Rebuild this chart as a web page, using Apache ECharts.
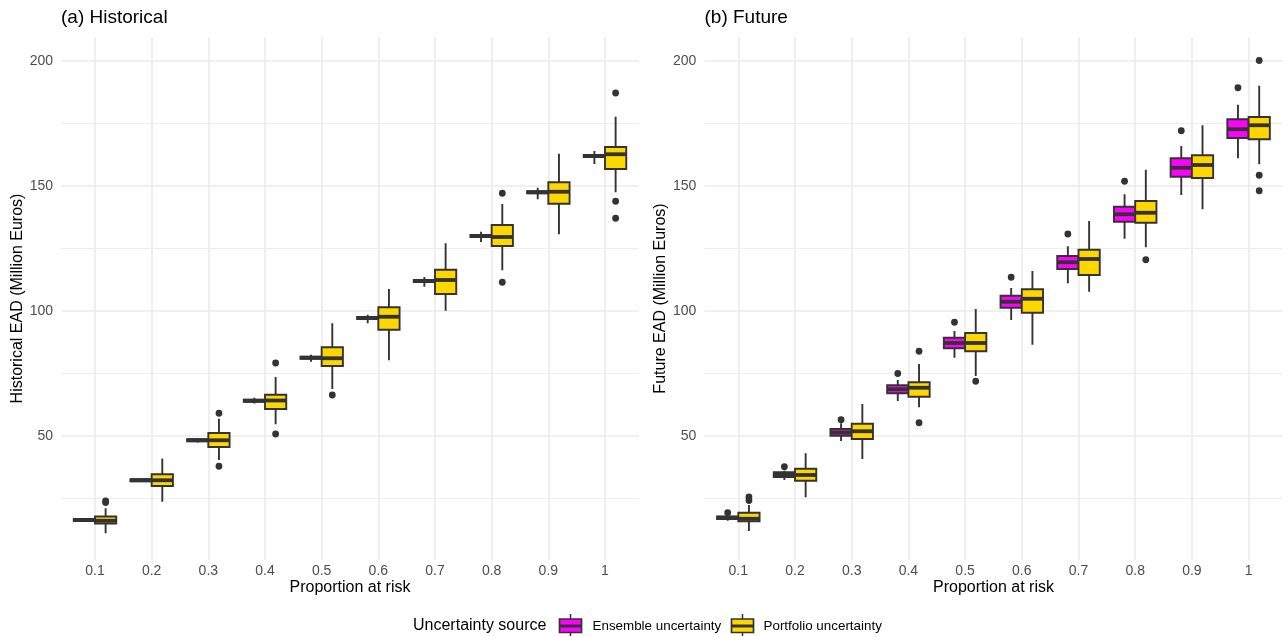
<!DOCTYPE html>
<html>
<head>
<meta charset="utf-8">
<script src="https://cdn.jsdelivr.net/npm/echarts@6/dist/echarts.min.js"></script>
<style>
  html, body { margin: 0; padding: 0; background: #ffffff; }
  #chart { width: 1288px; height: 637px; }
</style>
</head>
<body>
<div id="chart"></div>
<script>
// Proportion of the portfolio at risk (x categories)
const categories = ['0.1', '0.2', '0.3', '0.4', '0.5', '0.6', '0.7', '0.8', '0.9', '1'];
const yMajorTicks = [50, 100, 150, 200];
const yMinorTicks = [25, 75, 125, 175];

// Box statistics per category: [lower whisker, Q1, median, Q3, upper whisker]
const histEnsemble = [
  [15.7, 16.0, 16.4, 16.8, 17.0],
  [31.6, 31.9, 32.3, 32.7, 33.0],
  [47.4, 47.9, 48.3, 48.7, 49.2],
  [63.0, 63.7, 64.1, 64.5, 65.3],
  [79.7, 80.9, 81.3, 81.7, 82.5],
  [95.1, 96.8, 97.2, 97.6, 98.5],
  [109.7, 111.6, 112.0, 112.4, 113.6],
  [127.6, 129.6, 130.0, 130.4, 131.7],
  [144.7, 147.1, 147.5, 147.9, 149.3],
  [158.8, 161.6, 162.0, 162.4, 164.0]
];
const histPortfolio = [
  [11.1, 15.0, 16.1, 17.8, 21.1],
  [23.7, 30.0, 32.3, 34.7, 41.0],
  [40.4, 45.6, 48.3, 51.2, 56.9],
  [54.7, 60.8, 64.2, 66.5, 73.6],
  [68.8, 78.0, 81.1, 85.5, 95.1],
  [80.3, 92.5, 97.7, 101.5, 108.8],
  [100.1, 106.8, 112.4, 116.5, 127.1],
  [116.3, 126.0, 129.6, 134.4, 142.8],
  [130.7, 142.9, 147.7, 151.5, 162.9],
  [147.5, 156.8, 162.7, 165.6, 177.7]
];
const futEnsemble = [
  [16.1, 16.8, 17.3, 17.8, 18.3],
  [32.4, 33.6, 34.5, 35.5, 36.1],
  [48.0, 50.1, 51.4, 52.8, 55.1],
  [64.0, 67.1, 68.7, 70.3, 72.4],
  [81.3, 85.1, 87.2, 89.3, 92.0],
  [96.4, 101.3, 103.7, 106.1, 109.2],
  [111.1, 116.8, 119.5, 122.0, 125.9],
  [128.9, 135.7, 138.7, 141.7, 146.7],
  [146.4, 153.7, 157.3, 161.1, 166.0],
  [161.1, 169.2, 172.7, 176.7, 182.5]
];
const futPortfolio = [
  [12.0, 15.9, 16.9, 19.3, 22.4],
  [25.5, 32.1, 34.4, 36.9, 43.1],
  [40.8, 48.8, 51.9, 54.9, 62.8],
  [61.5, 65.7, 69.3, 71.5, 78.8],
  [74.0, 83.9, 87.2, 91.2, 100.8],
  [86.5, 99.3, 104.9, 108.7, 116.0],
  [107.7, 114.4, 120.8, 124.5, 136.0],
  [125.5, 135.3, 139.3, 144.0, 156.5],
  [140.7, 153.2, 158.4, 162.3, 174.3],
  [158.7, 168.7, 174.3, 177.6, 190.1]
];

// Outlying points per category
const histEnsembleOutliers = [[], [], [], [], [], [], [], [], [], []];
const histPortfolioOutliers = [[23.4, 24.0], [], [59.1, 37.9], [79.2, 50.8], [66.4], [], [], [147.1, 111.5], [], [187.2, 143.9, 137.1]];
const futEnsembleOutliers = [[19.3], [37.7], [56.5], [75.0], [95.5], [113.5], [130.8], [151.9], [172.1], [189.3]];
const futPortfolioOutliers = [[24.2, 25.6], [], [], [83.9, 55.3], [71.9], [], [], [120.5], [], [200.2, 154.3, 148.1]];

const FONT = '"Liberation Sans", Arial, Helvetica, sans-serif';
const EDGE = '#333333';
const ENSEMBLE_FILL = '#FF00FF';
const PORTFOLIO_FILL = '#FFD700';
const GRID_COLOR = '#ebebeb';
const BOX_W = 0.375;      // width of each box in category units
const DODGE = 0.1875;     // half the dodge width
const Y_MIN = 0.4, Y_MAX = 209.6;
const EDGE_W = 1.9, MEDIAN_W = 3.8;

const catPositions = categories.map((_, i) => i + 1);

function boxData(stats) {
  return stats.map((s, i) => [i + 1].concat(s));
}
function outlierData(list) {
  const out = [];
  list.forEach((vals, i) => vals.forEach(v => out.push([i + 1, v])));
  return out;
}

function boxRenderer(side, fill) {
  return function (params, api) {
    const xv = api.value(0) + side * DODGE;
    const w = api.size([BOX_W, 0])[0];
    const cx = api.coord([xv, 0])[0];
    const py = v => api.coord([xv, v])[1];
    const lo = py(api.value(1)), q1 = py(api.value(2)), md = py(api.value(3)),
          q3 = py(api.value(4)), hi = py(api.value(5));
    const ls = { stroke: EDGE, lineWidth: EDGE_W };
    return {
      type: 'group',
      children: [
        { type: 'line', shape: { x1: cx, y1: q3, x2: cx, y2: hi }, style: ls },
        { type: 'line', shape: { x1: cx, y1: q1, x2: cx, y2: lo }, style: ls },
        { type: 'rect', shape: { x: cx - w / 2, y: q3, width: w, height: q1 - q3 },
          style: { fill: fill, stroke: EDGE, lineWidth: EDGE_W } },
        { type: 'line', shape: { x1: cx - w / 2, y1: md, x2: cx + w / 2, y2: md },
          style: { stroke: EDGE, lineWidth: MEDIAN_W } }
      ]
    };
  };
}

function outlierRenderer(side) {
  return function (params, api) {
    const xv = api.value(0) + side * DODGE;
    const p = api.coord([xv, api.value(1)]);
    return { type: 'circle', shape: { cx: p[0], cy: p[1], r: 3.4 }, style: { fill: EDGE } };
  };
}

const panels = [
  { ens: histEnsemble, port: histPortfolio, ensOut: histEnsembleOutliers, portOut: histPortfolioOutliers },
  { ens: futEnsemble, port: futPortfolio, ensOut: futEnsembleOutliers, portOut: futPortfolioOutliers }
];

const grids = [
  { left: 61, top: 37, width: 578, height: 523 },
  { left: 704.3, top: 37, width: 578.3, height: 523 }
];

const xAxes = grids.map((g, i) => ({
  gridIndex: i, type: 'value', min: 0.4, max: 10.6,
  axisLine: { show: false },
  axisTick: { show: false, customValues: catPositions },
  axisLabel: {
    customValues: catPositions,
    formatter: v => categories[Math.round(v) - 1],
    color: '#4d4d4d', fontSize: 14, fontFamily: FONT, margin: 4
  },
  splitLine: { show: true, lineStyle: { color: GRID_COLOR, width: 1.6 } }
}));

const yAxes = [];
grids.forEach((g, i) => {
  yAxes.push({
    gridIndex: i, type: 'value', min: Y_MIN, max: Y_MAX,
    axisLine: { show: false },
    axisTick: { show: false, customValues: yMajorTicks },
    axisLabel: { customValues: yMajorTicks, color: '#4d4d4d', fontSize: 14, fontFamily: FONT, margin: 8 },
    splitLine: { show: true, lineStyle: { color: GRID_COLOR, width: 1.6 } }
  });
  yAxes.push({
    gridIndex: i, type: 'value', min: Y_MIN, max: Y_MAX, position: 'left',
    axisLine: { show: false },
    axisTick: { show: false, customValues: yMinorTicks },
    axisLabel: { show: false },
    splitLine: { show: true, lineStyle: { color: GRID_COLOR, width: 0.9 } }
  });
});

const series = [];
panels.forEach((p, i) => {
  const axes = { xAxisIndex: i, yAxisIndex: 2 * i };
  series.push(Object.assign({
    type: 'custom', name: 'Ensemble uncertainty', z: 3,
    renderItem: boxRenderer(-1, ENSEMBLE_FILL),
    encode: { x: 0, y: [1, 2, 3, 4, 5] }, data: boxData(p.ens)
  }, axes));
  series.push(Object.assign({
    type: 'custom', name: 'Portfolio uncertainty', z: 3,
    renderItem: boxRenderer(1, PORTFOLIO_FILL),
    encode: { x: 0, y: [1, 2, 3, 4, 5] }, data: boxData(p.port)
  }, axes));
  series.push(Object.assign({
    type: 'custom', name: 'Ensemble outliers', z: 4,
    renderItem: outlierRenderer(-1),
    encode: { x: 0, y: 1 }, data: outlierData(p.ensOut)
  }, axes));
  series.push(Object.assign({
    type: 'custom', name: 'Portfolio outliers', z: 4,
    renderItem: outlierRenderer(1),
    encode: { x: 0, y: 1 }, data: outlierData(p.portOut)
  }, axes));
});

function txt(text, x, y, size, opts) {
  return Object.assign({
    type: 'text', x: x, y: y, silent: true,
    style: Object.assign({ text: text, fontSize: size, fontFamily: FONT, fill: '#000000',
      align: 'left', verticalAlign: 'middle' }, (opts && opts.style) || {})
  }, (opts && opts.el) || {});
}

// legend key: a miniature box with whisker and median
function legendKey(x, fill) {
  return {
    type: 'group', x: x, y: 626, silent: true,
    children: [
      { type: 'line', shape: { x1: 11, y1: -12, x2: 11, y2: 10 }, style: { stroke: EDGE, lineWidth: 1.5 } },
      { type: 'rect', shape: { x: 0, y: -7, width: 22, height: 13.5 }, style: { fill: fill, stroke: EDGE, lineWidth: 1.7 } },
      { type: 'line', shape: { x1: 0, y1: 0, x2: 22, y2: 0 }, style: { stroke: EDGE, lineWidth: 3 } }
    ]
  };
}

const graphics = [
  txt('(a) Historical', 61, 18, 19),
  txt('(b) Future', 704.5, 18, 19),
  txt('Historical EAD (Million Euros)', 17.5, 298.5, 16, { style: { align: 'center' }, el: { rotation: Math.PI / 2 } }),
  txt('Future EAD (Million Euros)', 661, 298.5, 16, { style: { align: 'center' }, el: { rotation: Math.PI / 2 } }),
  txt('Proportion at risk', 350, 588, 16, { style: { align: 'center' } }),
  txt('Proportion at risk', 993.5, 588, 16, { style: { align: 'center' } }),
  txt('Uncertainty source', 413, 626, 16),
  legendKey(559.5, ENSEMBLE_FILL),
  txt('Ensemble uncertainty', 592.5, 626, 13.4),
  legendKey(731.5, PORTFOLIO_FILL),
  txt('Portfolio uncertainty', 763.5, 626, 13.4)
];

const chart = echarts.init(document.getElementById('chart'), null, { renderer: 'canvas' });
chart.setOption({
  animation: false,
  backgroundColor: '#ffffff',
  grid: grids,
  xAxis: xAxes,
  yAxis: yAxes,
  series: series,
  graphic: graphics
});
</script>
</body>
</html>
